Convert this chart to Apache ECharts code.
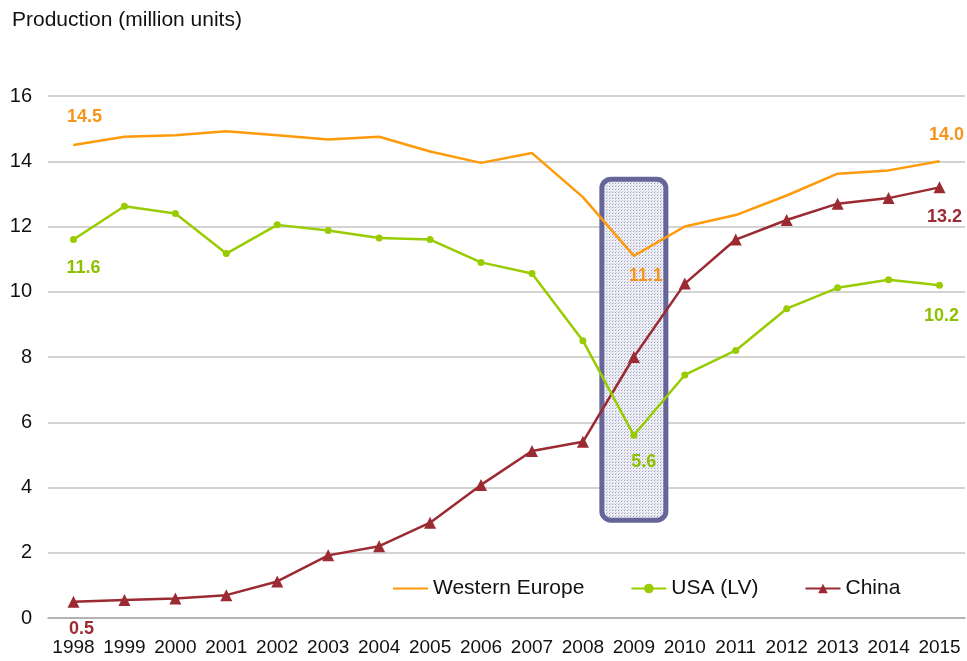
<!DOCTYPE html>
<html>
<head>
<meta charset="utf-8">
<script src="https://cdn.jsdelivr.net/npm/echarts@6/dist/echarts.min.js"></script>
<style>
  html, body { margin: 0; padding: 0; background: #fff; }
  #main { width: 967px; height: 661px; }
</style>
</head>
<body>
<div id="main"></div>
<script>
// data
var years = ['1998','1999','2000','2001','2002','2003','2004','2005','2006','2007','2008','2009','2010','2011','2012','2013','2014','2015'];
var westernEurope = [14.5, 14.75, 14.8, 14.92, 14.8, 14.67, 14.75, 14.3, 13.95, 14.25, 12.9, 11.1, 12.0, 12.35, 12.95, 13.62, 13.72, 14.0];
var usaLV = [11.6, 12.62, 12.4, 11.17, 12.05, 11.88, 11.65, 11.6, 10.9, 10.56, 8.5, 5.6, 7.45, 8.2, 9.48, 10.12, 10.37, 10.2];
var china = [0.5, 0.55, 0.6, 0.7, 1.12, 1.92, 2.2, 2.92, 4.08, 5.12, 5.4, 8.0, 10.25, 11.6, 12.2, 12.7, 12.87, 13.2];
var yTicks = [0, 2, 4, 6, 8, 10, 12, 14, 16];
// highlighted year and its value span
var highlight = ['2009', 3.0, 13.45];

var FONT = 'Liberation Sans, Arial, sans-serif';
var cOrange = '#FF9A0A', cGreen = '#99CC00', cRed = '#9B2A32';

// put a value label on some points
function withLabels(values, labels, color, needSymbol) {
	var out = [];
	for (var i = 0; i < values.length; i++) {
		if (labels[i]) {
			var item = {
				value: values[i],
				label: {
					show: true,
					position: labels[i].pos,
					offset: labels[i].off,
					color: color,
					fontFamily: FONT,
					fontWeight: 'bold',
					fontSize: 18,
					formatter: function (p) { return p.value.toFixed(1); }
				}
			};
			// series without markers still need a (tiny) symbol to carry the label
			if (needSymbol) { item.symbol = 'circle'; item.symbolSize = 1; }
			out.push(item);
		} else {
			out.push(values[i]);
		}
	}
	return out;
}

var weLabels = {0: {pos: 'top', off: [11, -13]}, 11: {pos: 'bottom', off: [12, 6]}, 17: {pos: 'top', off: [7, -12]}};
var usLabels = {0: {pos: 'bottom', off: [10, 11]}, 11: {pos: 'bottom', off: [10, 9]}, 17: {pos: 'bottom', off: [2, 13]}};
var cnLabels = {0: {pos: 'bottom', off: [8, 7]}, 17: {pos: 'bottom', off: [5, 10]}};

// dotted fill for the highlight box
var pat = document.createElement('canvas');
pat.width = 3; pat.height = 3;
var pctx = pat.getContext('2d');
pctx.fillStyle = '#eeeef5';
pctx.fillRect(0, 0, 3, 3);
pctx.fillStyle = '#9d9dc0';
pctx.fillRect(0, 0, 1, 1);
pctx.fillStyle = '#c8c8dc';
pctx.fillRect(1, 2, 1, 1);

var myChart = echarts.init(document.getElementById('main'));
var option = {
	backgroundColor: '#fff',
	animation: false,
	title: {
		text: 'Production (million units)',
		left: 7, top: 5,
		textStyle: {fontFamily: FONT, fontSize: 21, fontWeight: 'normal', color: '#111'}
	},
	legend: {
		left: 387, top: 573,
		itemWidth: 35, itemHeight: 12, itemGap: 46,
		textStyle: {fontFamily: FONT, fontSize: 21, color: '#111'},
		data: [
			{name: 'Western Europe', itemStyle: {opacity: 0}},
			'USA (LV)',
			'China'
		]
	},
	grid: {left: 48, right: 2, top: 96, bottom: 43},
	xAxis: {
		type: 'category',
		data: years,
		boundaryGap: true,
		axisLine: {lineStyle: {color: '#aaa', width: 1.5}},
		axisTick: {show: false},
		axisLabel: {fontFamily: FONT, fontSize: 19, color: '#111', margin: 20, interval: 0}
	},
	yAxis: {
		type: 'value',
		min: yTicks[0], max: yTicks[yTicks.length - 1], interval: 2,
		axisLine: {show: false},
		axisTick: {show: false},
		axisLabel: {fontFamily: FONT, fontSize: 20, color: '#111', margin: 16},
		splitLine: {lineStyle: {color: '#c4c4c4', width: 1.5}}
	},
	series: [
		{
			name: 'Western Europe', type: 'line',
			data: withLabels(westernEurope, weLabels, '#F7941D', true),
			symbol: 'none',
			lineStyle: {color: cOrange, width: 2.5},
			itemStyle: {color: cOrange},
			z: 3
		},
		{
			name: 'USA (LV)', type: 'line',
			data: withLabels(usaLV, usLabels, '#8DC000', false),
			symbol: 'circle', symbolSize: 7,
			lineStyle: {color: cGreen, width: 2.5},
			itemStyle: {color: cGreen},
			z: 3
		},
		{
			name: 'China', type: 'line',
			data: withLabels(china, cnLabels, cRed, false),
			symbol: 'triangle', symbolSize: 12,
			lineStyle: {color: cRed, width: 2.5},
			itemStyle: {color: cRed},
			z: 2
		}
	]
};
myChart.setOption(option);

// highlight box around the 2009 dip, placed through the chart's own scales
var pTop = myChart.convertToPixel({gridIndex: 0}, [highlight[0], highlight[2]]);
var pBot = myChart.convertToPixel({gridIndex: 0}, [highlight[0], highlight[1]]);
var halfW = 32;
myChart.setOption({
	graphic: [{
		type: 'rect',
		z: 1,
		shape: {x: pTop[0] - halfW, y: pTop[1], width: halfW * 2, height: pBot[1] - pTop[1], r: 9},
		style: {
			fill: {image: pat, repeat: 'repeat'},
			stroke: '#65659A',
			lineWidth: 5
		}
	}]
});
</script>
</body>
</html>
